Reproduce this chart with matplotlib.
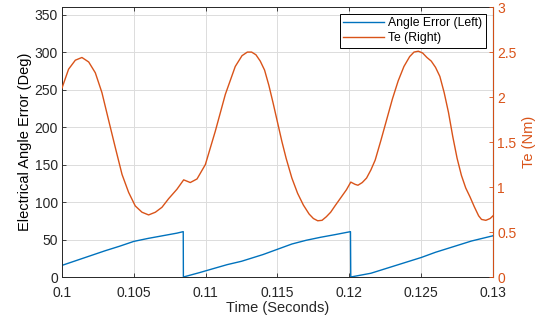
import matplotlib
matplotlib.use("Agg")
import matplotlib.pyplot as plt

plt.rcParams["font.family"] = ["Liberation Sans", "DejaVu Sans"]

BLUE = "#0072BD"
ORANGE = "#D95319"
DARK = "#262626"

# Angle error (deg), three saw-tooth segments
err_t = [0.1000, 0.1010, 0.1020, 0.1030, 0.1040, 0.1050, 0.1060, 0.1070, 0.1080, 0.10844,
         0.10845, 0.1096, 0.1105, 0.1115, 0.1125, 0.1140, 0.1150, 0.1160, 0.1170, 0.1180,
         0.1190, 0.12008,
         0.12010, 0.1215, 0.1225, 0.1235, 0.1250, 0.1260, 0.1270, 0.1275, 0.1285, 0.1300]
err_deg = [15.5, 22, 28.5, 35, 41, 47.5, 51.5, 55, 58.5, 60.5,
           0, 6, 11, 16.5, 21, 30, 37, 44, 49, 53,
           56.5, 60.5,
           0, 5, 11, 17, 26, 33, 39, 42, 48, 55]

# Electromagnetic torque (Nm)
te_t = [0.10000, 0.10046, 0.10093, 0.10139, 0.10186, 0.10232, 0.10278, 0.10325, 0.10371, 0.10418,
        0.10464, 0.10510, 0.10557, 0.10603, 0.10650, 0.10696, 0.10742, 0.10800, 0.10847, 0.10893,
        0.10940, 0.10998, 0.11067, 0.11137, 0.11206, 0.11253, 0.1129, 0.1132, 0.1135, 0.1138,
        0.1141, 0.1144, 0.1147, 0.1150, 0.1153, 0.1156, 0.1160, 0.1164, 0.1168, 0.1172,
        0.1175, 0.1178, 0.1181, 0.1184, 0.1187, 0.1190, 0.1194, 0.1198, 0.1201, 0.1204,
        0.1206, 0.1209, 0.1212, 0.1215, 0.1218, 0.1222, 0.1226, 0.1230, 0.1234, 0.1238,
        0.1242, 0.1245, 0.1248, 0.1251, 0.1254, 0.1257, 0.1260, 0.1263, 0.1266, 0.1269,
        0.1272, 0.1275, 0.1278, 0.1281, 0.1284, 0.1287, 0.1290, 0.1292, 0.1295, 0.1298,
        0.1300]
te_nm = [2.10, 2.31, 2.41, 2.44, 2.39, 2.27, 2.05, 1.74, 1.44, 1.14,
         0.94, 0.79, 0.72, 0.69, 0.72, 0.775, 0.87, 0.975, 1.08, 1.05,
         1.09, 1.25, 1.62, 2.03, 2.34, 2.46, 2.50, 2.50, 2.47, 2.40,
         2.30, 2.13, 1.93, 1.72, 1.51, 1.32, 1.10, 0.93, 0.80, 0.70,
         0.65, 0.625, 0.63, 0.67, 0.72, 0.79, 0.88, 0.97, 1.055, 1.03,
         1.02, 1.05, 1.10, 1.19, 1.30, 1.52, 1.75, 1.98, 2.18, 2.34,
         2.45, 2.50, 2.51, 2.49, 2.44, 2.40, 2.33, 2.23, 2.05, 1.83,
         1.56, 1.32, 1.13, 0.99, 0.89, 0.78, 0.68, 0.64, 0.63, 0.65,
         0.68]

x_ticks = [0.1, 0.105, 0.11, 0.115, 0.12, 0.125, 0.13]
x_labels = ["0.1", "0.105", "0.11", "0.115", "0.12", "0.125", "0.13"]
left_ticks = [0, 50, 100, 150, 200, 250, 300, 350]
right_ticks = [0, 0.5, 1, 1.5, 2, 2.5, 3]
right_labels = ["0", "0.5", "1", "1.5", "2", "2.5", "3"]

fig = plt.figure(figsize=(5.47, 3.23), dpi=100)
ax = fig.add_axes([0.1133, 0.1424, 0.788, 0.8356])
ax2 = ax.twinx()

l1, = ax.plot(err_t, err_deg, color=BLUE, lw=1.0, label="Angle Error (Left)")
l2, = ax2.plot(te_t, te_nm, color=ORANGE, lw=1.0, label="Te (Right)")

ax.set_xlim(0.1, 0.13)
ax.set_ylim(0, 360)
ax2.set_ylim(0, 3)
ax.set_xticks(x_ticks)
ax.set_xticklabels(x_labels)
ax.set_yticks(left_ticks)
ax2.set_yticks(right_ticks)
ax2.set_yticklabels(right_labels)

ax.grid(True, color="#dcdcdc", lw=0.7)
ax.set_axisbelow(True)

ax.tick_params(axis="both", direction="in", length=3, width=0.6,
               labelsize=10, colors=DARK, top=True, pad=3)
ax.tick_params(axis="x", pad=6.5)
ax2.tick_params(axis="y", direction="in", length=3, width=0.6,
                labelsize=10, colors=ORANGE, pad=3)

for name in ["left", "top", "bottom"]:
    ax.spines[name].set_color(DARK)
    ax.spines[name].set_linewidth(0.7)
ax2.spines["right"].set_color(ORANGE)
ax2.spines["right"].set_linewidth(0.7)
ax2.spines["left"].set_visible(False)
ax2.spines["top"].set_visible(False)
ax2.spines["bottom"].set_visible(False)

ax.set_xlabel("Time (Seconds)", fontsize=10.5, color=DARK, labelpad=1)
ax.set_ylabel("Electrical Angle Error (Deg)", fontsize=10.5, color="black", labelpad=2)
ax2.set_ylabel("Te (Nm)", fontsize=10.5, color=ORANGE, labelpad=4)

leg = ax2.legend([l1, l2], ["Angle Error (Left)", "Te (Right)"], loc="upper right",
                 fontsize=8.8, frameon=True, fancybox=False, borderaxespad=0.55,
                 handlelength=3.3, borderpad=0.3, labelspacing=0.2, handletextpad=0.4)
leg.get_frame().set_edgecolor("black")
leg.get_frame().set_linewidth(0.7)
leg.get_frame().set_alpha(1)

fig.savefig("out.png", dpi=100)
